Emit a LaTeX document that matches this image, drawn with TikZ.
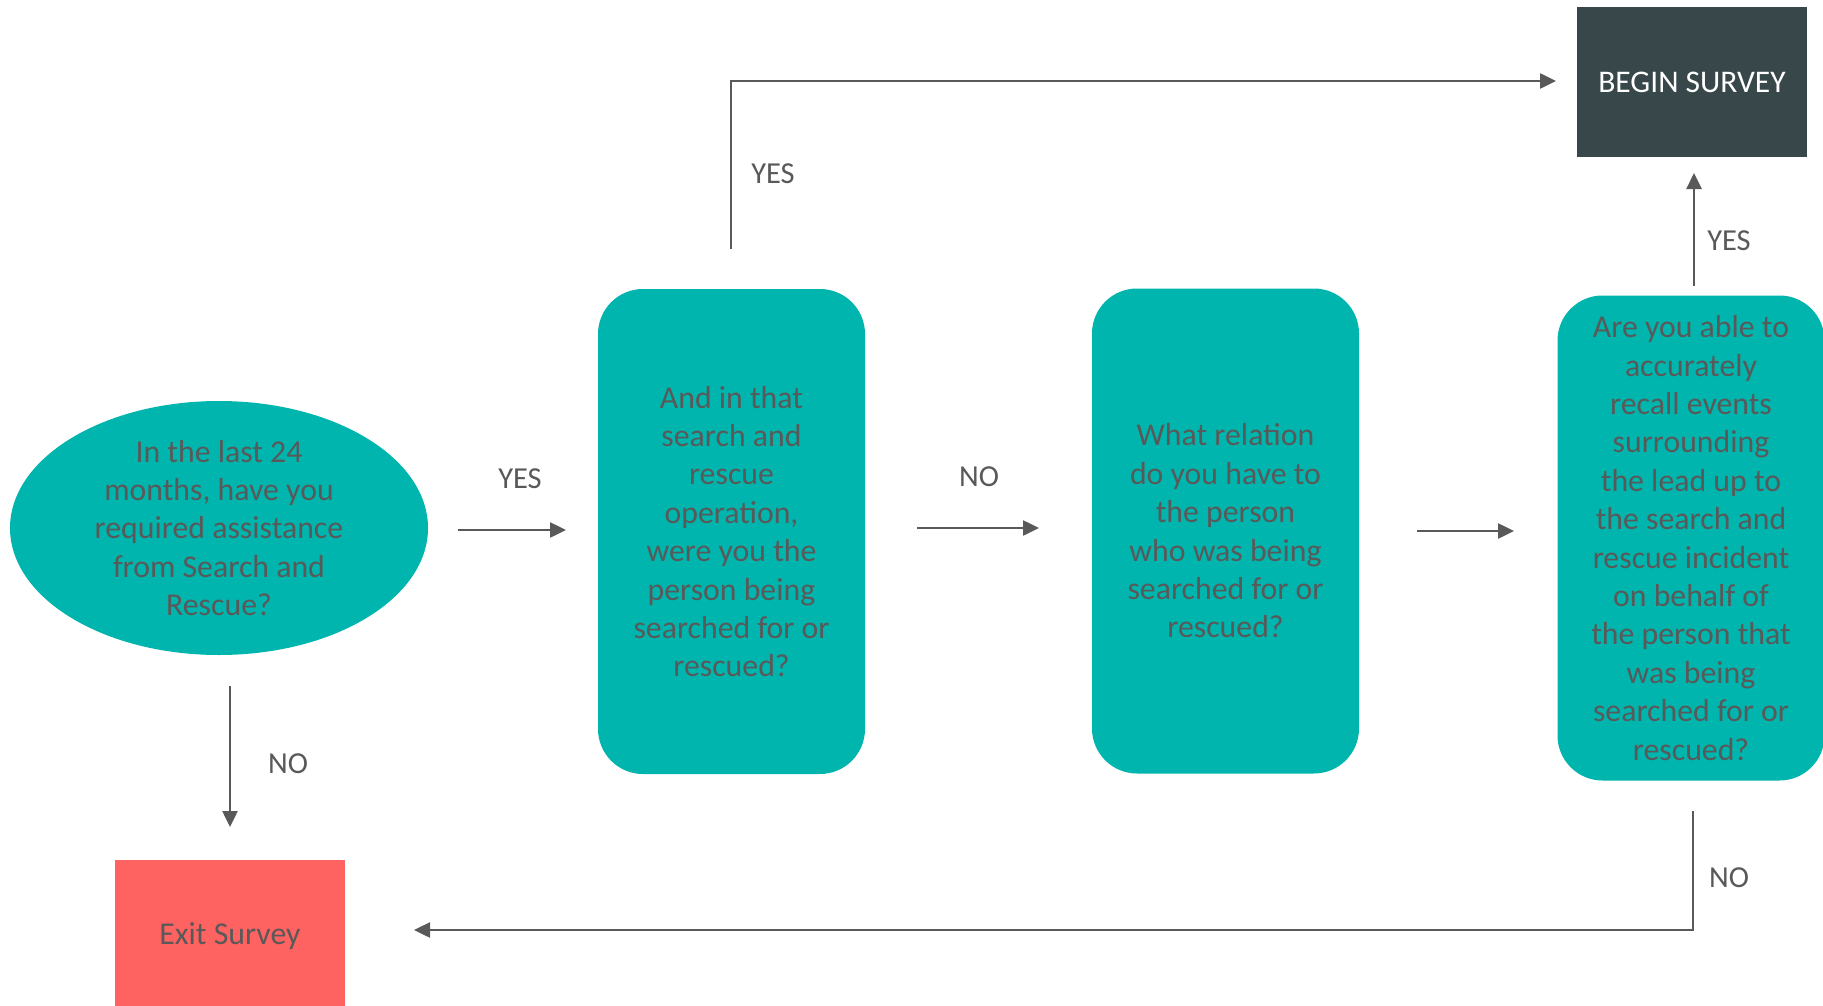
\documentclass[tikz,border=0pt]{standalone}
\usepackage{fontspec}
\setmainfont{Carlito}
\usetikzlibrary{arrows.meta,shapes.geometric}
\definecolor{tealq}{HTML}{00B5AD}
\definecolor{txtgray}{HTML}{595959}
\definecolor{darkbox}{HTML}{37474A}
\definecolor{redbox}{HTML}{FF6361}
\definecolor{arrgray}{HTML}{595959}
\tikzset{
  qtext/.style={text=txtgray, align=center, font=\fontsize{31.8}{38.4}\selectfont},
  qbox/.style={qtext, fill=tealq, rounded corners=45pt, minimum width=267pt, minimum height=485pt, inner sep=0pt},
  qell/.style={qtext, ellipse, fill=tealq, minimum width=418pt, minimum height=254pt, inner sep=0pt},
  arr/.style={draw=arrgray, line width=2.5pt, -{Triangle[length=16pt,width=15pt]}},
  lbl/.style={text=txtgray, font=\fontsize{30.5}{36}\selectfont, inner sep=0pt}
}
\begin{document}
\begin{tikzpicture}[x=1pt,y=-1pt]
\useasboundingbox (0,0) rectangle (1823,1006);
% nodes
\node[qell] (q1) at (219,528) {In the last 24\\months, have you\\required assistance\\from Search and\\Rescue?};
\node[qbox] (q2) at (731.5,531.5) {And in that\\search and\\rescue\\operation,\\were you the\\person being\\searched for or\\rescued?};
\node[qbox] (q3) at (1225.5,531) {What relation\\do you have to\\the person\\who was being\\searched for or\\rescued?};
\node[qbox] (q4) at (1691,538) {Are you able to\\accurately\\recall events\\surrounding\\the lead up to\\the search and\\rescue incident\\on behalf of\\the person that\\was being\\searched for or\\rescued?};
\node[fill=darkbox, text=white, minimum width=230pt, minimum height=150pt, inner sep=0pt, font=\fontsize{31.5}{36}\selectfont] (begin) at (1692,82) {BEGIN SURVEY};
\node[fill=redbox, text=txtgray, minimum width=230pt, minimum height=152pt, inner sep=0pt, font=\fontsize{31.8}{36}\selectfont] (exit) at (230,936) {Exit Survey};
% coordinates
\coordinate (a1s) at (458,530);
\coordinate (a1e) at (566,530);
\coordinate (a2s) at (917,528);
\coordinate (a2e) at (1039,528);
\coordinate (a3s) at (1417,531);
\coordinate (a3e) at (1514,531);
\coordinate (yts) at (731,249);
\coordinate (ytc) at (731,81);
\coordinate (yte) at (1556,81);
\coordinate (yrs) at (1694,286);
\coordinate (yre) at (1694,173);
\coordinate (nls) at (230,686);
\coordinate (nle) at (230,827);
\coordinate (nrs) at (1693,811);
\coordinate (nrc) at (1693,930);
\coordinate (nre) at (414,930);
% connectors
\draw[arr] (a1s) -- (a1e);
\draw[arr] (a2s) -- (a2e);
\draw[arr] (a3s) -- (a3e);
\draw[arr] (yts) -- (ytc) -- (yte);
\draw[arr] (yrs) -- (yre);
\draw[arr] (nls) -- (nle);
\draw[arr] (nrs) -- (nrc) -- (nre);
% labels
\node[lbl] (l1) at (520,479) {YES};
\node[lbl] (l2) at (979,477) {NO};
\node[lbl] (l3) at (773,174) {YES};
\node[lbl] (l4) at (1729,241) {YES};
\node[lbl] (l5) at (288,764) {NO};
\node[lbl] (l6) at (1729,878) {NO};
\end{tikzpicture}
\end{document}
